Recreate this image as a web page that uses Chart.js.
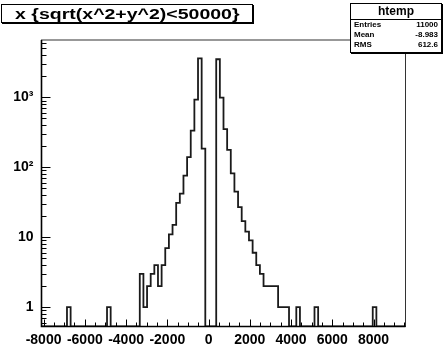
<!DOCTYPE html>
<html>
<head>
<meta charset="utf-8">
<script src="https://cdn.jsdelivr.net/npm/chart.js@4.4.1/dist/chart.umd.min.js"></script>
<style>
  body { margin: 0; background: #fff; }
  #wrap { position: relative; width: 443px; height: 347px; font-family: 'Liberation Sans', Arial, sans-serif; }
  #histChart { position: absolute; left: 0; top: 0; }
  #title {
    position: absolute; left: 1px; top: 4px; width: 250px; height: 17px;
    border: 1px solid #000; box-shadow: 1px 1px 0 #000; background: #fff;
    text-align: center; line-height: 17px; font-weight: bold; font-size: 15px; color: #000;
  }
  #title span { display: inline-block; transform: scaleX(1.3); }
  #stats {
    position: absolute; left: 350px; top: 3px; width: 90px; height: 48px;
    border: 1px solid #000; box-shadow: 1px 1px 0 #000; background: #fff; color: #000;
  }
  #stats .head { height: 15px; line-height: 15px; text-align: center; font-weight: bold; font-size: 12px; border-bottom: 1px solid #000; }
  #stats .row { height: 10px; line-height: 10px; font-size: 8px; font-weight: bold; padding: 0 3px; display: flex; justify-content: space-between; }
</style>
</head>
<body>
<div id="wrap">
  <canvas id="histChart" width="443" height="347"></canvas>
  <div id="title"><span>x {sqrt(x^2+y^2)&lt;50000}</span></div>
  <div id="stats"></div>
</div>
<script>
// histogram: 100 bins between xMin and xMax
const xMin = -8100;
const xMax = 9550;
const binCounts = [
  0, 0, 0, 0, 0, 0, 0, 1, 0, 0,
  0, 0, 0, 0, 0, 0, 0, 0, 1, 0,
  0, 0, 0, 0, 0, 0, 0, 3, 1, 2,
  3, 4, 2, 4, 7, 11, 15, 31, 42, 76,
  140, 335, 930, 3600, 185, 0, 0, 0, 3500, 990,
  352, 177, 82, 45, 27, 17, 12, 9, 6, 4,
  3, 2, 2, 2, 2, 1, 1, 1, 0, 0,
  1, 0, 0, 0, 0, 1, 0, 0, 0, 0,
  0, 0, 0, 0, 0, 0, 0, 0, 0, 0,
  0, 1, 0, 0, 0, 0, 0, 0, 0, 0
];

const yMin = 0.53;
const yMax = 6600;

const xMajorTicks = [-8000, -6000, -4000, -2000, 0, 2000, 4000, 6000, 8000];
const xMinorStep = 500;
const yDecades = [1, 10, 100, 1000];
const yDecadeLabels = ['1', '10', '10\u00b2', '10\u00b3'];

const histName = 'htemp';
const statNames = ['Entries', 'Mean', 'RMS'];
const statValues = ['11000', '-8.983', '612.6'];

// stats box
const stats = document.getElementById('stats');
stats.innerHTML = '<div class="head">' + histName + '</div>' +
  statNames.map((n, i) => '<div class="row"><span>' + n + '</span><span>' + statValues[i] + '</span></div>').join('');

const binWidth = (xMax - xMin) / binCounts.length;
const points = binCounts.map((c, i) => ({ x: xMin + i * binWidth, y: c > 0 ? c : yMin }));
points.push({ x: xMax, y: points[points.length - 1].y });

const xTickValues = [];
for (let v = Math.ceil(xMin / xMinorStep) * xMinorStep; v <= xMax; v += xMinorStep) xTickValues.push(v);

const yTickValues = [];
[0.1, 1, 10, 100, 1000].forEach(d => {
  for (let m = 1; m <= 9; m++) {
    const v = m * d;
    if (v >= yMin && v <= yMax) yTickValues.push(v);
  }
});

const tickFont = { family: "'Liberation Sans', Arial, sans-serif", size: 14, weight: 'bold' };

const frameAndTicks = {
  id: 'frameAndTicks',
  afterDatasetsDraw(chart) {
    const { ctx, chartArea: a, scales: { x, y } } = chart;
    ctx.save();
    ctx.strokeStyle = '#000';
    ctx.lineWidth = 1;
    ctx.beginPath();
    x.ticks.forEach(t => {
      const px = Math.round(x.getPixelForValue(t.value)) + 0.5;
      const len = xMajorTicks.includes(t.value) ? 7 : 4;
      ctx.moveTo(px, a.bottom);
      ctx.lineTo(px, a.bottom - len);
    });
    y.ticks.forEach(t => {
      const py = Math.round(y.getPixelForValue(t.value)) + 0.5;
      const len = yDecades.includes(t.value) ? 9 : 5;
      ctx.moveTo(a.left, py);
      ctx.lineTo(a.left + len, py);
    });
    ctx.stroke();
    ctx.strokeStyle = '#333';
    ctx.strokeRect(a.left, a.top, a.right - a.left, a.bottom - a.top);
    ctx.strokeStyle = '#000';
    ctx.lineWidth = 1.6;
    ctx.beginPath();
    ctx.moveTo(a.left, a.top);
    ctx.lineTo(a.left, a.bottom);
    ctx.lineTo(a.right, a.bottom);
    ctx.stroke();
    ctx.restore();
  }
};

new Chart(document.getElementById('histChart'), {
  type: 'line',
  data: {
    datasets: [{
      data: points,
      stepped: true,
      borderColor: '#1a1a1a',
      borderWidth: 1.8,
      pointRadius: 0,
      fill: false
    }]
  },
  options: {
    responsive: false,
    animation: false,
    devicePixelRatio: 1,
    layout: { padding: { top: 40, right: 37.5, left: 0, bottom: 0 } },
    plugins: { legend: { display: false }, tooltip: { enabled: false }, title: { display: false } },
    scales: {
      x: {
        type: 'linear',
        min: xMin,
        max: xMax,
        grid: { display: false, drawTicks: false },
        border: { display: false },
        afterBuildTicks: s => { s.ticks = xTickValues.map(v => ({ value: v })); },
        afterFit: s => { s.height = 20.5; },
        ticks: {
          autoSkip: false,
          maxRotation: 0,
          padding: 5,
          color: '#000',
          font: tickFont,
          callback: v => xMajorTicks.includes(v) ? String(v) : ''
        }
      },
      y: {
        type: 'logarithmic',
        min: yMin,
        max: yMax,
        grid: { display: false, drawTicks: false },
        border: { display: false },
        afterBuildTicks: s => { s.ticks = yTickValues.map(v => ({ value: v })); },
        afterFit: s => { s.width = 41.5; },
        ticks: {
          autoSkip: false,
          padding: 8,
          color: '#000',
          font: tickFont,
          callback: v => {
            const i = yDecades.indexOf(v);
            return i >= 0 ? yDecadeLabels[i] : '';
          }
        }
      }
    }
  },
  plugins: [frameAndTicks]
});
</script>
</body>
</html>
